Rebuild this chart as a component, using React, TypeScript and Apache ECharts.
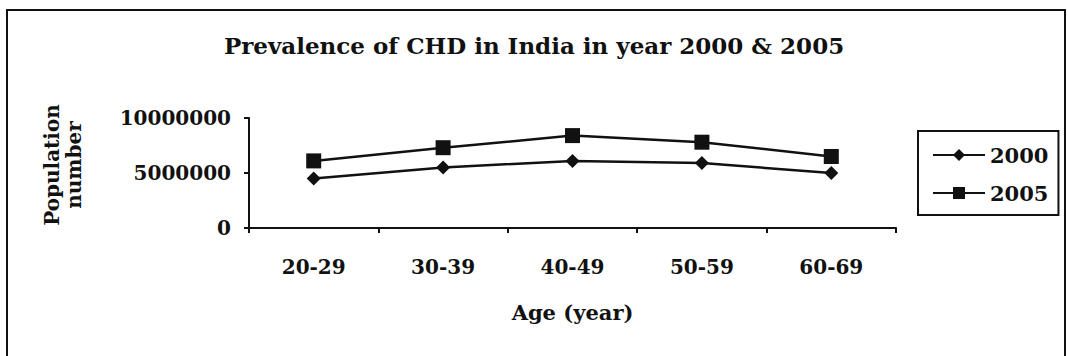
import React, { useEffect, useRef } from "react";
import * as echarts from "echarts";

const categories = ["20-29", "30-39", "40-49", "50-59", "60-69"];
const series2000 = [4500000, 5500000, 6100000, 5900000, 5000000];
const series2005 = [6100000, 7300000, 8400000, 7800000, 6500000];
const yTicks = { min: 0, max: 10000000, interval: 5000000 };

const FONT = "DejaVu Serif";

export default function App() {
  const ref = useRef<HTMLDivElement>(null);
  useEffect(() => {
    if (!ref.current) return;
    const chart = echarts.init(ref.current, null, { renderer: "svg" });
    chart.setOption({
      animation: false,
      backgroundColor: "#ffffff",
      title: {
        text: "Prevalence of CHD in India in year 2000 & 2005",
        left: "center",
        top: 29,
        textStyle: { fontFamily: FONT, fontWeight: "bold", fontSize: 23, color: "#111" },
      },
      graphic: [
        {
          type: "rect",
          shape: { x: 7, y: 10, width: 1058, height: 360 },
          style: { fill: "none", stroke: "#111", lineWidth: 2 },
          silent: true,
        },
      ],
      legend: {
        orient: "vertical",
        left: 918,
        top: 131,
        padding: [12, 10, 10, 14],
        itemWidth: 52,
        itemHeight: 15,
        itemGap: 14,
        borderColor: "#111",
        borderWidth: 2,
        textStyle: { fontFamily: FONT, fontWeight: "bold", fontSize: 21, color: "#111", lineHeight: 24 },
        data: ["2000", "2005"],
      },
      grid: { left: 249, right: 172, top: 118, bottom: 128 },
      xAxis: {
        type: "category",
        data: categories,
        boundaryGap: true,
        name: "Age (year)",
        nameLocation: "middle",
        nameGap: 74,
        nameTextStyle: { fontFamily: FONT, fontWeight: "bold", fontSize: 21, color: "#111" },
        axisLine: { lineStyle: { color: "#111", width: 2 } },
        axisTick: { show: true, length: 5, lineStyle: { color: "#111", width: 2 } },
        axisLabel: { fontFamily: FONT, fontWeight: "bold", fontSize: 20, color: "#111", margin: 29 },
      },
      yAxis: {
        type: "value",
        min: yTicks.min,
        max: yTicks.max,
        interval: yTicks.interval,
        name: "Population\nnumber",
        nameLocation: "middle",
        nameRotate: 90,
        nameGap: 164,
        nameTextStyle: {
          fontFamily: FONT,
          fontWeight: "bold",
          fontSize: 20,
          color: "#111",
          lineHeight: 22,
          padding: [0, 0, 0, 16],
        },
        axisLine: { show: true, lineStyle: { color: "#111", width: 2 } },
        axisTick: { show: true, length: 5, lineStyle: { color: "#111", width: 2 } },
        splitLine: { show: false },
        axisLabel: {
          fontFamily: FONT,
          fontWeight: "bold",
          fontSize: 20,
          color: "#111",
          margin: 18,
          formatter: (v: number) => String(v),
        },
      },
      series: [
        {
          name: "2000",
          type: "line",
          data: series2000,
          symbol: "diamond",
          symbolSize: 14,
          lineStyle: { color: "#111", width: 2.5 },
          itemStyle: { color: "#111" },
        },
        {
          name: "2005",
          type: "line",
          data: series2005,
          symbol: "rect",
          symbolSize: 15,
          lineStyle: { color: "#111", width: 2.5 },
          itemStyle: { color: "#111" },
        },
      ],
    });
    return () => chart.dispose();
  }, []);
  return (
    <div
      ref={ref}
      style={{ position: "fixed", left: 0, top: 0, width: 1068, height: 356 }}
    />
  );
}
